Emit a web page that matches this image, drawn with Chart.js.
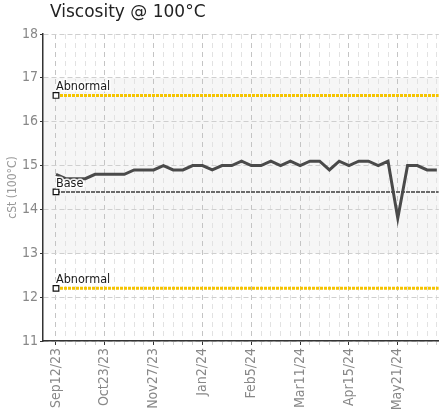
<!DOCTYPE html>
<html>
<head>
<meta charset="utf-8">
<script src="https://cdn.jsdelivr.net/npm/chart.js@4.4.1/dist/chart.umd.min.js"></script>
<style>
  html, body { margin: 0; padding: 0; background: #fff; }
  #wrap { position: relative; width: 444px; height: 414px; }
  #chart { position: absolute; left: 0; top: 0; }
  #title { position: absolute; left: 50px; top: 1px; font: 17px/20px "DejaVu Sans", sans-serif; color: #222; }
</style>
</head>
<body>
<div id="wrap">
  <canvas id="chart" width="444" height="414"></canvas>
  <div id="title">Viscosity @ 100°C</div>
</div>
<script>
// sample dates (one label shown every 5 samples)
const dates = [
  'Sep12/23', 'Sep20/23', 'Sep28/23', 'Oct6/23', 'Oct14/23',
  'Oct23/23', 'Oct30/23', 'Nov6/23', 'Nov13/23', 'Nov20/23',
  'Nov27/23', 'Dec4/23', 'Dec11/23', 'Dec18/23', 'Dec26/23',
  'Jan2/24', 'Jan9/24', 'Jan16/24', 'Jan22/24', 'Jan29/24',
  'Feb5/24', 'Feb12/24', 'Feb19/24', 'Feb26/24', 'Mar4/24',
  'Mar11/24', 'Mar18/24', 'Mar25/24', 'Apr1/24', 'Apr8/24',
  'Apr15/24', 'Apr22/24', 'Apr29/24', 'May6/24', 'May13/24',
  'May21/24', 'May28/24', 'Jun4/24', 'Jun11/24', 'Jun18/24'
];

// cSt @ 100°C
const viscosity = [
  14.8, 14.7, 14.7, 14.7, 14.8, 14.8, 14.8, 14.8, 14.9, 14.9,
  14.9, 15.0, 14.9, 14.9, 15.0, 15.0, 14.9, 15.0, 15.0, 15.1,
  15.0, 15.0, 15.1, 15.0, 15.1, 15.0, 15.1, 15.1, 14.9, 15.1,
  15.0, 15.1, 15.1, 15.0, 15.1, 13.8, 15.0, 15.0, 14.9, 14.9
];

const yTicks = [11, 12, 13, 14, 15, 16, 17, 18];

// limit lines
const abnormalHigh = 16.6;
const baseValue = 14.4;
const abnormalLow = 12.2;
const normalBand = [13, 17];

const FONT = '"Liberation Sans Narrow", "DejaVu Sans Condensed", sans-serif';
const X_MIN = -1.33;
const X_MAX = 39.2;

function refLine(label, value, color, dash, width) {
  return {
    label: label,
    data: [{ x: 0, y: value }, { x: X_MAX, y: value }],
    borderColor: color,
    borderWidth: width,
    borderDash: dash,
    pointStyle: 'rect',
    pointRadius: ctx => ctx.dataIndex === 0 ? 4 : 0,
    pointBackgroundColor: '#fff',
    pointBorderColor: '#111',
    pointBorderWidth: 1.2,
    order: 1
  };
}

// light background band
const bandPlugin = {
  id: 'band',
  beforeDraw(chart) {
    const { ctx, chartArea, scales } = chart;
    const top = scales.y.getPixelForValue(normalBand[1]);
    const bottom = scales.y.getPixelForValue(normalBand[0]);
    ctx.save();
    ctx.fillStyle = '#f6f6f6';
    ctx.fillRect(chartArea.left, top, chartArea.right - chartArea.left, bottom - top);
    ctx.restore();
  }
};

// text labels next to the reference markers
const refLabelPlugin = {
  id: 'refLabels',
  afterDatasetsDraw(chart) {
    const { ctx } = chart;
    ctx.save();
    ctx.font = '12.5px "DejaVu Sans Condensed", "DejaVu Sans", sans-serif';
    ctx.textAlign = 'left';
    ctx.textBaseline = 'alphabetic';
    chart.data.datasets.forEach((ds, i) => {
      if (i === 0) return;
      const pt = chart.getDatasetMeta(i).data[0];
      ctx.lineWidth = 3;
      ctx.strokeStyle = 'rgba(255,255,255,0.9)';
      ctx.strokeText(ds.label, pt.x, pt.y - 5);
      ctx.fillStyle = '#1a1a1a';
      ctx.fillText(ds.label, pt.x, pt.y - 5);
    });
    ctx.restore();
  }
};

const ctx = document.getElementById('chart').getContext('2d');
new Chart(ctx, {
  type: 'line',
  data: {
    datasets: [
      {
        label: 'Viscosity',
        data: viscosity.map((v, i) => ({ x: i, y: v })),
        borderColor: '#4a4a4a',
        borderWidth: 3,
        pointRadius: 0,
        tension: 0,
        order: 0
      },
      refLine('Abnormal', abnormalHigh, '#f5c400', [3, 1], 3),
      refLine('Base', baseValue, '#6a6a6a', [4, 1], 2),
      refLine('Abnormal', abnormalLow, '#f5c400', [3, 1], 3)
    ]
  },
  options: {
    responsive: false,
    animation: false,
    layout: { padding: { top: 34, right: 4, left: 0, bottom: 0 } },
    plugins: {
      legend: { display: false },
      tooltip: { enabled: false }
    },
    scales: {
      x: {
        type: 'linear',
        min: X_MIN,
        max: X_MAX,
        afterBuildTicks: s => { s.ticks = dates.map((d, i) => ({ value: i })); },
        afterFit: s => { s.height = 73; s.paddingLeft = 0; s.paddingRight = 0; },
        ticks: {
          autoSkip: false,
          minRotation: 90,
          maxRotation: 90,
          padding: 3,
          color: '#888',
          font: { family: FONT, size: 14 },
          callback: (v, i) => i % 5 === 0 ? dates[i] : ''
        },
        grid: {
          color: c => c.index % 5 === 0 ? '#c4c4c4' : '#e2e2e2',
          tickColor: c => c.index % 5 === 0 ? '#333' : '#d0d0d0',
          tickLength: 4
        },
        border: { display: true, color: '#333', width: 1.5, dash: [5, 4] }
      },
      y: {
        min: 11,
        max: 18,
        afterBuildTicks: s => { s.ticks = yTicks.map(v => ({ value: v })); },
        afterFit: s => { s.width = 43; },
        ticks: {
          padding: 2,
          color: '#888',
          font: { family: FONT, size: 14 }
        },
        grid: { color: '#cfcfcf', tickColor: '#333', tickLength: 3 },
        border: { display: true, color: '#333', width: 1.5, dash: [5, 3] },
        title: {
          display: true,
          text: 'cSt (100°C)',
          color: '#999',
          font: { family: FONT, size: 12 },
          padding: { top: 6, bottom: 0 }
        }
      }
    }
  },
  plugins: [bandPlugin, refLabelPlugin]
});
</script>
</body>
</html>
